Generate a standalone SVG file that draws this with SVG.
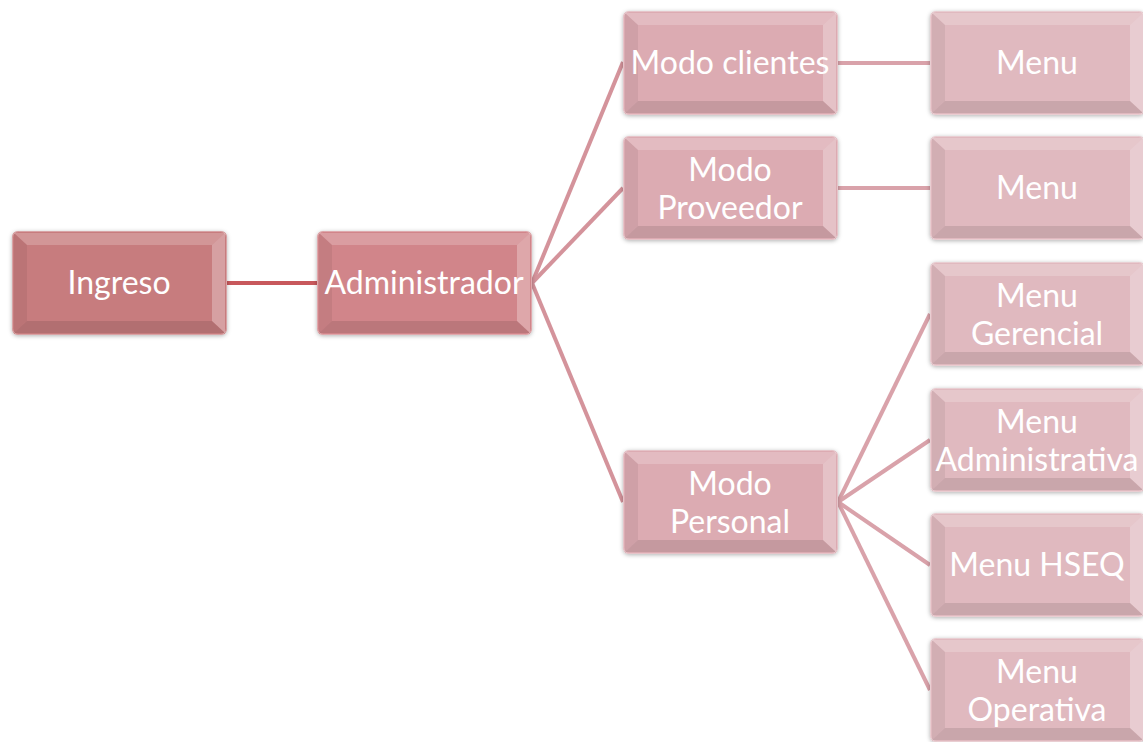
<svg xmlns="http://www.w3.org/2000/svg" xmlns:xlink="http://www.w3.org/1999/xlink" width="1143" height="742" viewBox="0 0 1143 742">
  <style>
    .lbl { font-family: Lato, "Open Sans", "Liberation Sans", sans-serif; font-size: 32px; fill: #ffffff; text-anchor: middle; }
    .f1 { fill: #c77b7e; }
    .f2 { fill: #d1858a; }
    .f3 { fill: #dcabb2; }
    .f4 { fill: #e0b9bf; }
    .face { filter: url(#glow); }
    .c1 { stroke: #c8585c; stroke-width: 4; fill: none; }
    .c2 { stroke: #d4939b; stroke-width: 4; fill: none; }
    .c3 { stroke: #d9a2aa; stroke-width: 4; fill: none; }
  </style>
  <defs>
    <filter id="glow" x="-10%" y="-10%" width="120%" height="120%">
      <feDropShadow dx="0" dy="1" stdDeviation="2" flood-color="#000000" flood-opacity="0.3"/>
    </filter>
    <!-- bevel shading laid over a 215x104 box face -->
    <g id="bevel">
      <polygon points="2,2 213,2 200,14 15,14" fill="#ffffff" fill-opacity="0.2"/>
      <polygon points="213,2 213,102 200,90 200,14" fill="#ffffff" fill-opacity="0.28"/>
      <polygon points="2,102 213,102 200,90 15,90" fill="#000000" fill-opacity="0.1"/>
      <polygon points="2,2 2,102 15,90 15,14" fill="#000000" fill-opacity="0.06"/>
      <rect x="0.5" y="0.5" width="214" height="103" rx="6" fill="none" stroke="#ffffff" stroke-opacity="0.3" stroke-width="1"/>
    </g>
  </defs>

  <g id="connectors">
    <line class="c1" x1="227" y1="283" x2="317" y2="283"/>
    <line class="c2" x1="532" y1="283" x2="623" y2="62"/>
    <line class="c2" x1="532" y1="283" x2="623" y2="188"/>
    <line class="c2" x1="532" y1="283" x2="623" y2="502"/>
    <line class="c3" x1="838" y1="63" x2="930" y2="63"/>
    <line class="c3" x1="838" y1="188" x2="930" y2="188"/>
    <line class="c3" x1="838" y1="502" x2="930" y2="314"/>
    <line class="c3" x1="838" y1="502" x2="930" y2="440"/>
    <line class="c3" x1="838" y1="502" x2="930" y2="565"/>
    <line class="c3" x1="838" y1="502" x2="930" y2="690"/>
  </g>

  <g id="n-ingreso" transform="translate(12,231)">
    <rect class="face f1" width="215" height="104" rx="6"/>
    <use xlink:href="#bevel"/>
    <text class="lbl" x="107" y="63">Ingreso</text>
  </g>

  <g id="n-administrador" transform="translate(317,231)">
    <rect class="face f2" width="215" height="104" rx="6"/>
    <use xlink:href="#bevel"/>
    <text class="lbl" x="107" y="63">Administrador</text>
  </g>

  <g id="n-modo-clientes" transform="translate(623,11)">
    <rect class="face f3" width="215" height="104" rx="6"/>
    <use xlink:href="#bevel"/>
    <text class="lbl" x="107" y="63">Modo clientes</text>
  </g>

  <g id="n-modo-proveedor" transform="translate(623,136)">
    <rect class="face f3" width="215" height="104" rx="6"/>
    <use xlink:href="#bevel"/>
    <text class="lbl" x="107" y="45">Modo</text>
    <text class="lbl" x="107" y="83">Proveedor</text>
  </g>

  <g id="n-modo-personal" transform="translate(623,450)">
    <rect class="face f3" width="215" height="104" rx="6"/>
    <use xlink:href="#bevel"/>
    <text class="lbl" x="107" y="45">Modo</text>
    <text class="lbl" x="107" y="83">Personal</text>
  </g>

  <g id="n-menu-clientes" transform="translate(930,11)">
    <rect class="face f4" width="215" height="104" rx="6"/>
    <use xlink:href="#bevel"/>
    <text class="lbl" x="107" y="63">Menu</text>
  </g>

  <g id="n-menu-proveedor" transform="translate(930,136)">
    <rect class="face f4" width="215" height="104" rx="6"/>
    <use xlink:href="#bevel"/>
    <text class="lbl" x="107" y="63">Menu</text>
  </g>

  <g id="n-menu-gerencial" transform="translate(930,262)">
    <rect class="face f4" width="215" height="104" rx="6"/>
    <use xlink:href="#bevel"/>
    <text class="lbl" x="107" y="45">Menu</text>
    <text class="lbl" x="107" y="83">Gerencial</text>
  </g>

  <g id="n-menu-administrativa" transform="translate(930,388)">
    <rect class="face f4" width="215" height="104" rx="6"/>
    <use xlink:href="#bevel"/>
    <text class="lbl" x="107" y="45">Menu</text>
    <text class="lbl" x="107" y="83">Administrativa</text>
  </g>

  <g id="n-menu-hseq" transform="translate(930,513)">
    <rect class="face f4" width="215" height="104" rx="6"/>
    <use xlink:href="#bevel"/>
    <text class="lbl" x="107" y="63">Menu HSEQ</text>
  </g>

  <g id="n-menu-operativa" transform="translate(930,638)">
    <rect class="face f4" width="215" height="104" rx="6"/>
    <use xlink:href="#bevel"/>
    <text class="lbl" x="107" y="45">Menu</text>
    <text class="lbl" x="107" y="83">Operativa</text>
  </g>
</svg>
